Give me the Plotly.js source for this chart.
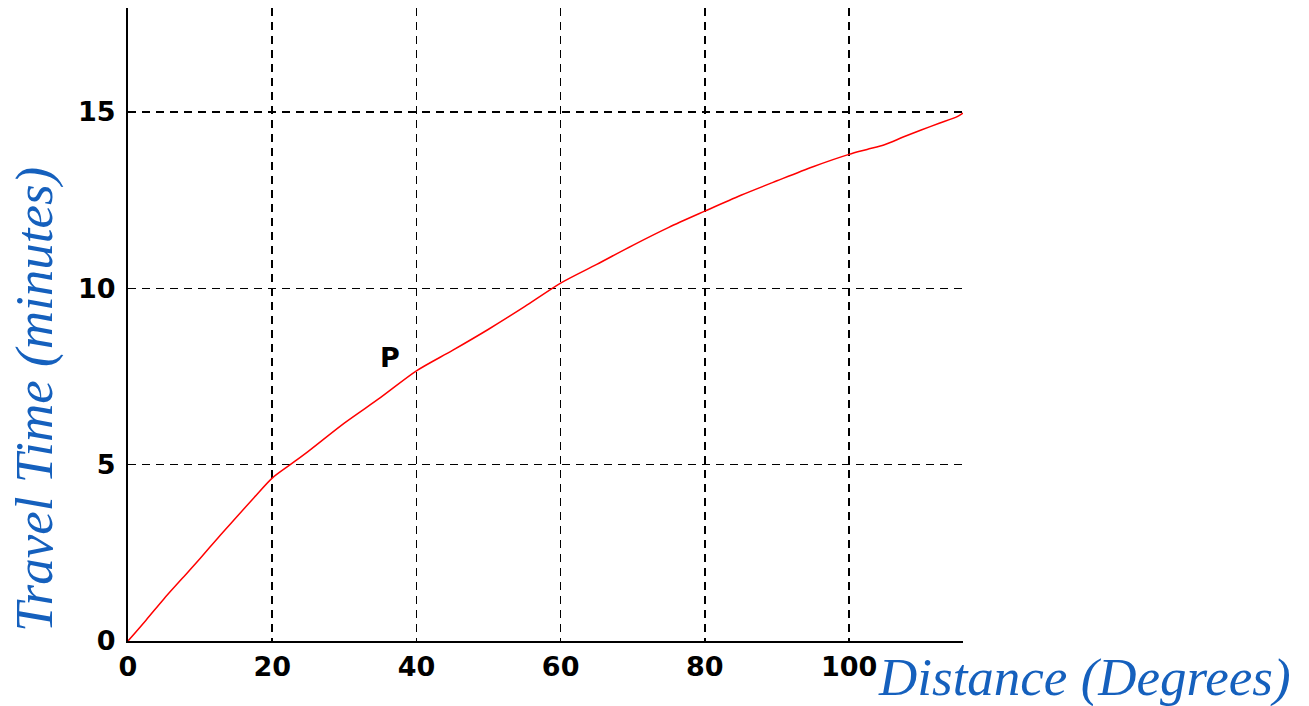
<!DOCTYPE html>
<html>
<head>
<meta charset="utf-8">
<script src="https://cdn.plot.ly/plotly-3.0.1.min.js"></script>
<style>html,body{margin:0;padding:0;background:#fff;}#chart{width:1309px;height:706px;}</style>
</head>
<body>
<div id="chart"></div>
<script>
// Distance (degrees) and travel time (minutes)
const distance = [0, 2.5, 5, 7.5, 10, 12.5, 15, 17.5, 20, 22.5, 25, 30, 35, 40, 45, 50, 55, 60, 65, 70, 75, 80, 85, 90, 95, 100, 102.5, 105, 107.5, 110, 112.5, 115, 115.8];
const travelTime = [0, 0.59, 1.2, 1.77, 2.34, 2.93, 3.5, 4.07, 4.62, 5.0, 5.38, 6.18, 6.9, 7.66, 8.24, 8.84, 9.48, 10.15, 10.68, 11.22, 11.73, 12.19, 12.64, 13.05, 13.45, 13.8, 13.94, 14.08, 14.29, 14.49, 14.68, 14.87, 14.97];
const xTicks = [0, 20, 40, 60, 80, 100];
const yTicks = [0, 5, 10, 15];
const pointLabel = {text: 'P', x: 36.3, y: 8.05};
const xTitle = 'Distance (Degrees)';
const yTitle = 'Travel Time (minutes)';

const tickFont = {family: 'DejaVu Sans, Liberation Sans, Arial, sans-serif', size: 27, color: '#000', weight: 700};
const titleFont = {family: 'Liberation Serif, Times New Roman, serif', size: 53, color: '#1560BD', style: 'italic'};

const trace = {
  x: distance, y: travelTime, type: 'scatter', mode: 'lines',
  line: {color: '#ff0000', width: 1.5, shape: 'spline', smoothing: 0.8}, hoverinfo: 'none', showlegend: false
};

const layout = {
  width: 1309, height: 706,
  margin: {l: 128, r: 346, t: 8, b: 65, pad: 0},
  paper_bgcolor: '#fff', plot_bgcolor: '#fff',
  xaxis: {
    range: [0, 115.8], tickvals: xTicks, ticktext: xTicks.map(String),
    showgrid: true, gridcolor: '#000', gridwidth: 1.5, griddash: '8px,6px',
    zeroline: false, showline: true, linecolor: '#000', linewidth: 2,
    ticks: '', tickfont: tickFont, ticklabelstandoff: 1, fixedrange: true
  },
  yaxis: {
    range: [0, 17.95], tickvals: yTicks, ticktext: yTicks.map(String),
    showgrid: true, gridcolor: '#000', gridwidth: 1.5, griddash: '8px,6px',
    zeroline: false, showline: true, linecolor: '#000', linewidth: 2,
    ticks: '', tickfont: tickFont, ticklabelstandoff: 5, fixedrange: true
  },
  annotations: [
    {text: pointLabel.text, x: pointLabel.x, y: pointLabel.y, xref: 'x', yref: 'y', showarrow: false,
     font: {family: 'DejaVu Sans, Liberation Sans, Arial, sans-serif', size: 27, color: '#000', weight: 700}},
    {text: xTitle, xref: 'paper', yref: 'paper', x: 1.146, y: -0.0569, xanchor: 'center', yanchor: 'middle',
     showarrow: false, font: titleFont},
    {text: yTitle, xref: 'paper', yref: 'paper', x: -0.1126, y: 0.3823, xanchor: 'center', yanchor: 'middle',
     textangle: -90, showarrow: false, font: titleFont}
  ]
};

Plotly.newPlot('chart', [trace], layout, {displayModeBar: false, staticPlot: true});
</script>
</body>
</html>
